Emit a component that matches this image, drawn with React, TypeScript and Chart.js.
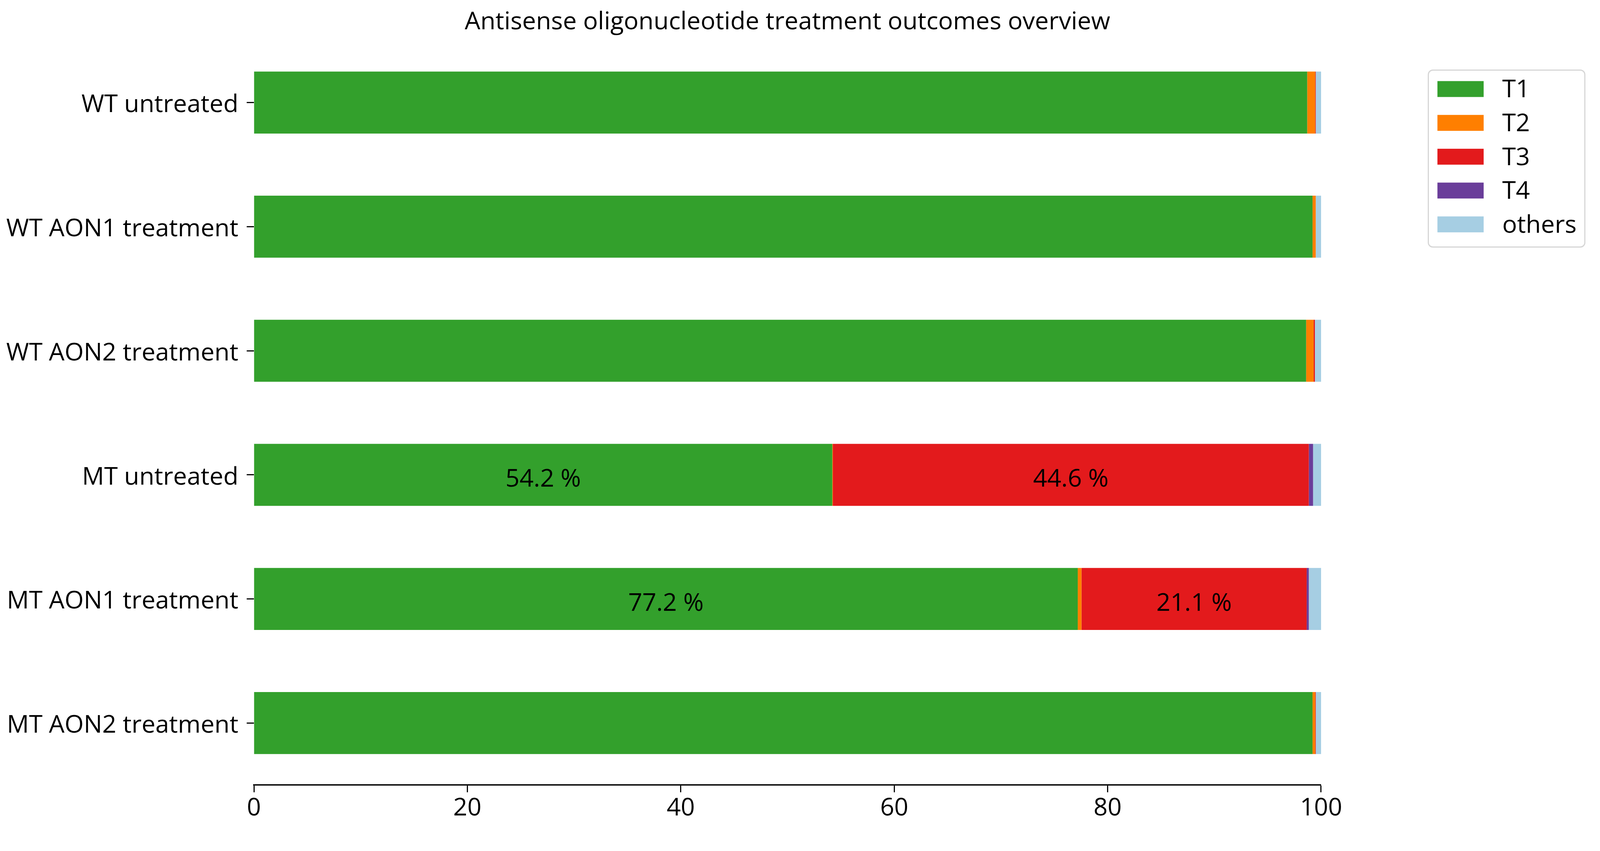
import React, { useEffect, useRef, useState } from "react";
import { Chart, registerables } from "chart.js";

Chart.register(...registerables);

const TITLE = "Antisense oligonucleotide treatment outcomes overview";
const categories = [
  "WT untreated",
  "WT AON1 treatment",
  "WT AON2 treatment",
  "MT untreated",
  "MT AON1 treatment",
  "MT AON2 treatment",
];
const seriesNames = ["T1", "T2", "T3", "T4", "others"];
const T1 = [98.7, 99.2, 98.6, 54.2, 77.2, 99.2];
const T2 = [0.75, 0.3, 0.7, 0.05, 0.35, 0.25];
const T3 = [0.05, 0.0, 0.12, 44.6, 21.1, 0.05];
const T4 = [0.0, 0.0, 0.0, 0.4, 0.2, 0.0];
const others = [0.5, 0.5, 0.58, 0.75, 1.15, 0.5];
const seriesColors = ["#33a02c", "#ff7f00", "#e31a1c", "#6a3d9a", "#a6cee3"];
const xTicks = [0, 20, 40, 60, 80, 100];
const LABEL_MIN = 5;
const LABEL_MAX = 95;

const FONT = "'Open Sans', 'Noto Sans', sans-serif";
const BASE_W = 4222;
const BASE_H = 2179;

export default function App() {
  const ref = useRef<HTMLCanvasElement | null>(null);
  const [size] = useState(() => {
    document.body.style.margin = "0";
    const w = window.innerWidth || BASE_W;
    const s = w / BASE_W;
    return { w, h: BASE_H * s, s };
  });
  const S = size.s;

  useEffect(() => {
    const canvas = ref.current;
    if (!canvas) return;
    const values = [T1, T2, T3, T4, others];
    const FS = 65 * S;

    const titlePlugin = {
      id: "mplTitle",
      afterDraw(chart: any) {
        const ctx = chart.ctx;
        const a = chart.chartArea;
        ctx.save();
        ctx.font = `${FS}px ${FONT}`;
        ctx.fillStyle = "#000";
        ctx.textAlign = "center";
        ctx.textBaseline = "alphabetic";
        ctx.fillText(TITLE, (a.left + a.right) / 2, 77 * S);
        ctx.restore();
      },
    };

    const labelPlugin = {
      id: "segLabels",
      afterDatasetsDraw(chart: any) {
        const ctx = chart.ctx;
        ctx.save();
        ctx.font = `${FS}px ${FONT}`;
        ctx.fillStyle = "#000";
        ctx.textAlign = "center";
        ctx.textBaseline = "alphabetic";
        chart.data.datasets.forEach((ds: any, i: number) => {
          const meta = chart.getDatasetMeta(i);
          meta.data.forEach((el: any, j: number) => {
            const v = ds.data[j];
            if (v > LABEL_MIN && v < LABEL_MAX) {
              const cx = (el.x + el.base) / 2;
              ctx.fillText(`${v.toFixed(1)} %`, cx, el.y + 31 * S);
            }
          });
        });
        ctx.restore();
      },
    };

    const legendPlugin = {
      id: "mplLegend",
      afterDraw(chart: any) {
        const ctx = chart.ctx;
        const a = chart.chartArea;
        const x0 = a.right + 283 * S;
        const y0 = 185 * S;
        const w = 413 * S;
        const h = 467 * S;
        ctx.save();
        ctx.beginPath();
        (ctx as any).roundRect(x0, y0, w, h, 12 * S);
        ctx.fillStyle = "rgba(255,255,255,0.8)";
        ctx.fill();
        ctx.lineWidth = 3 * S;
        ctx.strokeStyle = "#d6d6d6";
        ctx.stroke();
        ctx.font = `${FS}px ${FONT}`;
        ctx.textAlign = "left";
        ctx.textBaseline = "alphabetic";
        chart.data.datasets.forEach((ds: any, i: number) => {
          const cy = (235 + i * 89.3) * S;
          ctx.fillStyle = ds.backgroundColor;
          ctx.fillRect(x0 + 24 * S, cy - 21 * S, 122 * S, 42 * S);
          ctx.fillStyle = "#000";
          ctx.fillText(ds.label, x0 + 195 * S, cy + 22 * S);
        });
        ctx.restore();
      },
    };

    const chart = new Chart(canvas, {
      type: "bar",
      data: {
        labels: categories,
        datasets: seriesNames.map((name, i) => ({
          label: name,
          data: values[i],
          backgroundColor: seriesColors[i],
          borderWidth: 0,
          barPercentage: 0.5,
          categoryPercentage: 1.0,
        })),
      },
      options: {
        indexAxis: "y",
        animation: false,
        responsive: true,
        maintainAspectRatio: false,
        layout: { padding: { top: 107 * S, right: 736 * S, bottom: 0, left: 0 } },
        plugins: {
          legend: { display: false },
          title: { display: false },
          tooltip: { enabled: false },
        },
        scales: {
          x: {
            stacked: true,
            min: 0,
            max: 100,
            afterBuildTicks(scale: any) {
              scale.ticks = xTicks.map((v) => ({ value: v }));
            },
            afterFit(scale: any) {
              scale.height = 107 * S;
            },
            ticks: {
              color: "#000",
              font: { size: FS, family: FONT },
              padding: 4 * S,
              maxRotation: 0,
            },
            grid: {
              display: true,
              drawOnChartArea: false,
              drawTicks: true,
              tickLength: 19 * S,
              tickWidth: 3 * S,
              tickColor: "#000",
            },
            border: { display: true, color: "#000", width: 3.5 * S },
          },
          y: {
            stacked: true,
            afterFit(scale: any) {
              scale.width = 670 * S;
            },
            ticks: {
              color: "#000",
              font: { size: FS, family: FONT },
              padding: 22 * S,
              labelOffset: 7 * S,
            },
            grid: {
              display: true,
              drawOnChartArea: false,
              drawTicks: true,
              tickLength: 19 * S,
              tickWidth: 3 * S,
              tickColor: "#000",
              offset: false,
            },
            border: { display: false },
          },
        },
      } as any,
      plugins: [titlePlugin, labelPlugin, legendPlugin],
    });

    return () => chart.destroy();
  }, [S]);

  return (
    <div style={{ width: size.w, height: size.h, position: "relative", background: "#fff" }}>
      <canvas ref={ref} />
    </div>
  );
}
